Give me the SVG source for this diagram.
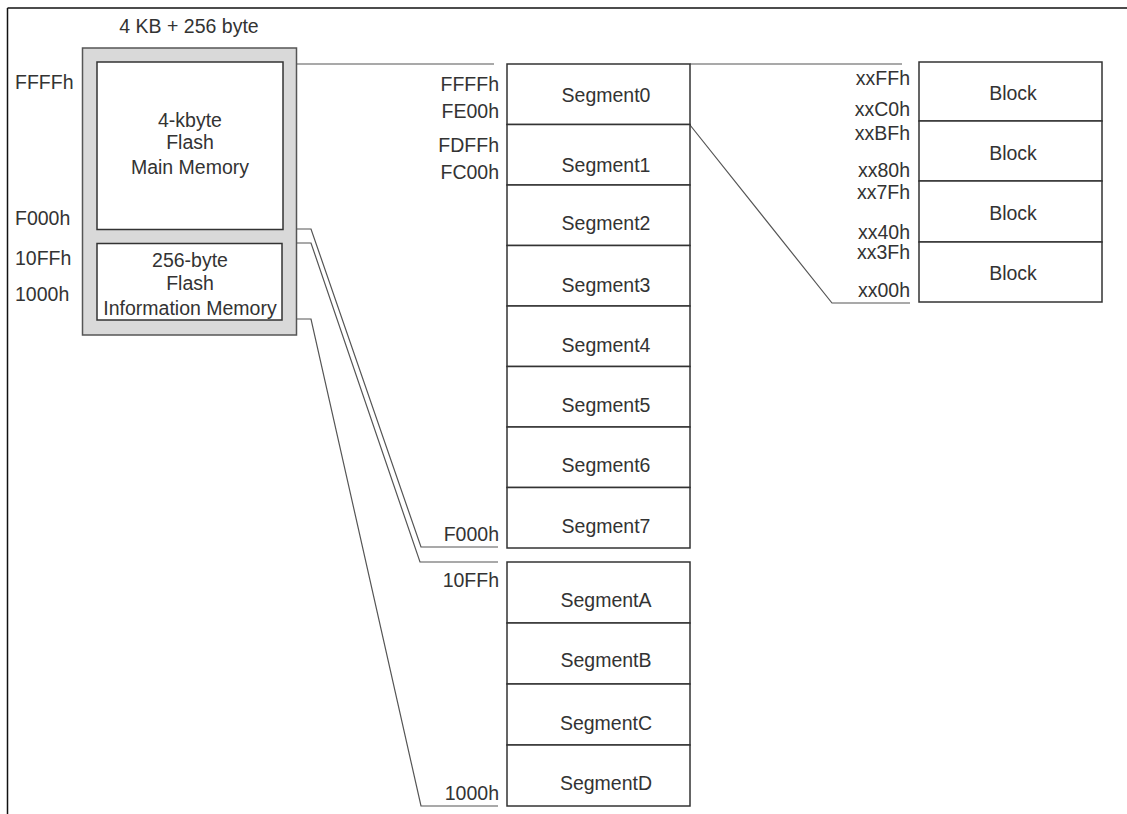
<svg xmlns="http://www.w3.org/2000/svg" width="1127" height="814" viewBox="0 0 1127 814">
<style>
  text { font-family: "Liberation Sans", Arial, sans-serif; font-size: 19.5px; fill: #333; }
  .m { text-anchor: middle; }
  .r { text-anchor: end; }
  .box { fill: #fff; stroke: #333; stroke-width: 1.5; }
  .conn { fill: none; stroke: #555; stroke-width: 1.2; }
</style>
<rect x="0" y="0" width="1127" height="814" fill="#fff"/>
<g id="frame">
  <line x1="7.5" y1="8" x2="1127" y2="8" stroke="#111" stroke-width="1.5"/>
  <line x1="7.5" y1="8" x2="7.5" y2="814" stroke="#111" stroke-width="1.5"/>
</g>

<g id="connectors">
  <path class="conn" d="M297,64 H494"/>
  <path class="conn" d="M297,229 H311 L421,547 H498"/>
  <path class="conn" d="M297,243 H311 L420,562 H498"/>
  <path class="conn" d="M297,319 H311 L421,806 H498"/>
  <path class="conn" d="M690,64 H902"/>
  <path class="conn" d="M690,125 L832,303 H910"/>
</g>

<g id="flash-overview">
  <text class="m" x="189" y="33">4 KB + 256 byte</text>
  <rect x="82.5" y="48" width="214" height="287" fill="#d9d9d9" stroke="#555" stroke-width="1.5"/>
  <text x="15" y="89">FFFFh</text>
  <text x="15" y="225">F000h</text>
  <text x="15" y="265">10FFh</text>
  <text x="15" y="301">1000h</text>
</g>
<g id="main-memory">
  <rect class="box" x="97" y="62" width="186" height="167.5"/>
  <text class="m" x="190" y="127">4-kbyte</text>
  <text class="m" x="190" y="149">Flash</text>
  <text class="m" x="190" y="174">Main Memory</text>
</g>
<g id="info-memory">
  <rect class="box" x="97" y="243.5" width="185" height="76.5"/>
  <text class="m" x="190" y="267">256-byte</text>
  <text class="m" x="190" y="290">Flash</text>
  <text class="m" x="190" y="315">Information Memory</text>
</g>

<g id="main-segments">
  <text class="r" x="499" y="91">FFFFh</text>
  <text class="r" x="499" y="118">FE00h</text>
  <text class="r" x="499" y="152">FDFFh</text>
  <text class="r" x="499" y="179">FC00h</text>
  <text class="r" x="499" y="541">F000h</text>
  <g id="segment0"><rect class="box" x="507" y="64" width="183" height="60.5"/><text class="m" x="606" y="102">Segment0</text></g>
  <g id="segment1"><rect class="box" x="507" y="124.5" width="183" height="60.5"/><text class="m" x="606" y="172">Segment1</text></g>
  <g id="segment2"><rect class="box" x="507" y="185" width="183" height="60.5"/><text class="m" x="606" y="230">Segment2</text></g>
  <g id="segment3"><rect class="box" x="507" y="245.5" width="183" height="60.5"/><text class="m" x="606" y="292">Segment3</text></g>
  <g id="segment4"><rect class="box" x="507" y="306" width="183" height="60.5"/><text class="m" x="606" y="352">Segment4</text></g>
  <g id="segment5"><rect class="box" x="507" y="366.5" width="183" height="60.5"/><text class="m" x="606" y="412">Segment5</text></g>
  <g id="segment6"><rect class="box" x="507" y="427" width="183" height="60.5"/><text class="m" x="606" y="472">Segment6</text></g>
  <g id="segment7"><rect class="box" x="507" y="487.5" width="183" height="60.5"/><text class="m" x="606" y="533">Segment7</text></g>
</g>

<g id="info-segments">
  <text class="r" x="499" y="587">10FFh</text>
  <text class="r" x="499" y="800">1000h</text>
  <g id="segmentA"><rect class="box" x="507" y="562" width="183" height="61"/><text class="m" x="606" y="607">SegmentA</text></g>
  <g id="segmentB"><rect class="box" x="507" y="623" width="183" height="61"/><text class="m" x="606" y="667">SegmentB</text></g>
  <g id="segmentC"><rect class="box" x="507" y="684" width="183" height="61"/><text class="m" x="606" y="730">SegmentC</text></g>
  <g id="segmentD"><rect class="box" x="507" y="745" width="183" height="61"/><text class="m" x="606" y="790">SegmentD</text></g>
</g>

<g id="blocks">
  <text class="r" x="910" y="85">xxFFh</text>
  <text class="r" x="910" y="116">xxC0h</text>
  <text class="r" x="910" y="140">xxBFh</text>
  <text class="r" x="910" y="177">xx80h</text>
  <text class="r" x="910" y="199">xx7Fh</text>
  <text class="r" x="910" y="239">xx40h</text>
  <text class="r" x="910" y="259">xx3Fh</text>
  <text class="r" x="910" y="297">xx00h</text>
  <g id="block3"><rect class="box" x="919" y="62" width="183" height="59"/><text class="m" x="1013" y="100">Block</text></g>
  <g id="block2"><rect class="box" x="919" y="121" width="183" height="60"/><text class="m" x="1013" y="160">Block</text></g>
  <g id="block1"><rect class="box" x="919" y="181" width="183" height="61"/><text class="m" x="1013" y="220">Block</text></g>
  <g id="block0"><rect class="box" x="919" y="242" width="183" height="60"/><text class="m" x="1013" y="280">Block</text></g>
</g>
</svg>
